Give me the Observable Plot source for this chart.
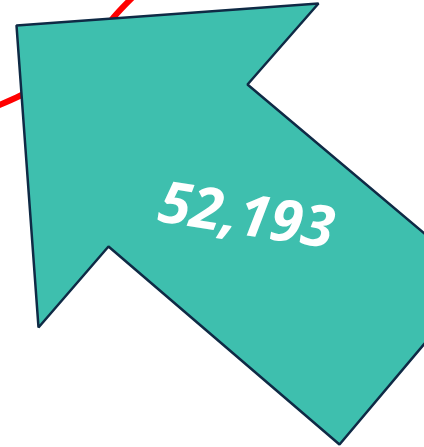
<!DOCTYPE html>
<html>
<head>
<meta charset="utf-8">
<script src="https://cdn.jsdelivr.net/npm/d3@7"></script>
<script src="https://cdn.jsdelivr.net/npm/@observablehq/plot@0.6"></script>
<style>
html,body{margin:0;padding:0;background:#fff;}
svg{display:block;}
</style>
</head>
<body>
<div id="chart"></div>
<script>
// Background trend line (red), in page units
const trendX = [-5, 20, 60, 95, 113, 135];
const trendY = [106, 95, 72, 42, 17, -6];
// Arrow outline vertices
const arrowX = [16, 318, 247, 430, 430, 339, 108, 38];
const arrowY = [25, 3, 84, 238, 336, 444, 246, 327];
// Label
const labelValue = ["52,193"];
const labelX = [246];
const labelY = [216];

const trend = trendX.map((x, i) => ({x, y: trendY[i]}));
const arrow = arrowX.map((x, i) => ({x, y: arrowY[i]}));
const label = labelValue.map((t, i) => ({t, x: labelX[i], y: labelY[i]}));

const chart = Plot.plot({
  width: 424,
  height: 447,
  margin: 0,
  x: {domain: [0, 424], range: [0, 424], axis: null},
  y: {domain: [0, 447], range: [0, 447], axis: null},
  marks: [
    Plot.line(trend, {x: "x", y: "y", stroke: "#ff0000", strokeWidth: 6, curve: "catmull-rom"}),
    Plot.line(arrow, {x: "x", y: "y", curve: "linear-closed", fill: "#3ebfae", stroke: "#0f2a45", strokeWidth: 2.5, strokeLinejoin: "miter"}),
    Plot.text(label, {x: "x", y: "y", text: "t", rotate: 9, fontSize: 58, fontWeight: "bold", fontStyle: "italic", fill: "white", fontFamily: "Open Sans", textAnchor: "middle", lineAnchor: "middle"})
  ]
});
document.getElementById("chart").appendChild(chart);
</script>
</body>
</html>
